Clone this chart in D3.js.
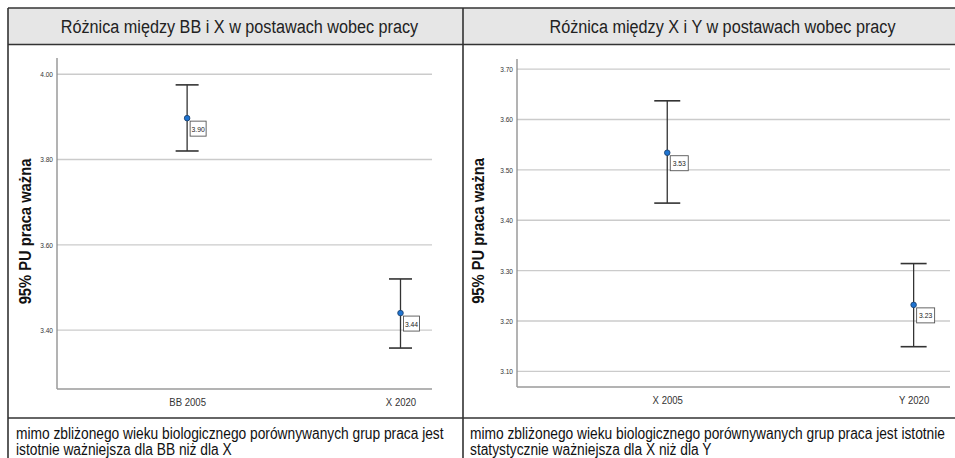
<!DOCTYPE html>
<html>
<head>
<meta charset="utf-8">
<script src="https://cdn.jsdelivr.net/npm/d3@7"></script>
<style>
  body { margin: 0; background: #fff; }
  svg { display: block; }
  text { font-family: "Liberation Sans", Arial, sans-serif; }
</style>
</head>
<body>
<svg id="chart" width="955" height="458"></svg>
<script>
// titles and notes
var panelTitles = ["Różnica między BB i X w postawach wobec pracy", "Różnica między X i Y w postawach wobec pracy"];
var notesA = ["mimo zbliżonego wieku biologicznego porównywanych grup praca jest", "istotnie ważniejsza dla BB niż dla X"];
var notesB = ["mimo zbliżonego wieku biologicznego porównywanych grup praca jest istotnie", "statystycznie ważniejsza dla X niż dla Y"];
var yTitle = "95% PU praca ważna";

// left panel data
var groupsA = ["BB 2005", "X 2020"];
var meanA = [3.897, 3.440];
var lowA = [3.820, 3.358];
var highA = [3.975, 3.520];
var ticksA = [3.40, 3.60, 3.80, 4.00];
var domainA = [3.262, 4.038];

// right panel data
var groupsB = ["X 2005", "Y 2020"];
var meanB = [3.534, 3.232];
var lowB = [3.434, 3.149];
var highB = [3.637, 3.314];
var ticksB = [3.10, 3.20, 3.30, 3.40, 3.50, 3.60, 3.70];
var domainB = [3.069, 3.720];

var svg = d3.select("#chart");
var fmt = d3.format(".2f");

// no narrow font installed, so squeeze the glyphs horizontally
function condense(sel, k) {
  sel.each(function() {
    var len = this.getComputedTextLength();
    d3.select(this).attr("textLength", len * k).attr("lengthAdjust", "spacingAndGlyphs");
  });
}

svg.append("rect").attr("width", 955).attr("height", 458).attr("fill", "#fff");

// table frame
var tLeft = 8, tTop = 8, tRight = 982, headBottom = 44.5, rowBottom = 418, divider = 463;
svg.append("rect")
  .attr("x", tLeft).attr("y", tTop)
  .attr("width", tRight - tLeft).attr("height", headBottom - tTop)
  .attr("fill", "#e6e6e6");

var frame = [
  [tLeft, tTop, tRight, tTop],
  [tLeft, headBottom, tRight, headBottom],
  [tLeft, rowBottom, tRight, rowBottom],
  [tLeft, tTop, tLeft, 470],
  [divider, tTop, divider, 470]
];
svg.selectAll("line.frame").data(frame).join("line")
  .attr("class", "frame")
  .attr("x1", function(d) { return d[0]; })
  .attr("y1", function(d) { return d[1]; })
  .attr("x2", function(d) { return d[2]; })
  .attr("y2", function(d) { return d[3]; })
  .attr("stroke", "#333")
  .attr("stroke-width", 1.6);

// header titles
var colCenters = [(tLeft + divider) / 2 + 4, (divider + tRight) / 2];
svg.selectAll("text.head").data(panelTitles).join("text")
  .attr("class", "head")
  .attr("x", function(d, i) { return colCenters[i]; })
  .attr("y", 33)
  .attr("text-anchor", "middle")
  .attr("font-size", 18)
  .attr("fill", "#222")
  .text(function(d) { return d; })
  .call(condense, 0.9);

// notes under charts
function drawNotes(lines, x) {
  svg.append("g").selectAll("text").data(lines).join("text")
    .attr("x", x)
    .attr("y", function(d, i) { return 439 + i * 15.5; })
    .attr("font-size", 16)
    .attr("fill", "#111")
    .text(function(d) { return d; })
    .call(condense, 0.86);
}
drawNotes(notesA, 16);
drawNotes(notesB, 470);

function drawPanel(p) {
  var w = p.right - p.left, h = p.bottom - p.top;
  var g = svg.append("g").attr("transform", "translate(" + p.left + "," + p.top + ")");

  var x = d3.scalePoint().domain(p.groups).range([w * 0.347, w * 0.916]);
  var y = d3.scaleLinear().domain(p.domain).range([h, 0]);

  // gridlines
  g.append("g").selectAll("line").data(p.ticks).join("line")
    .attr("x1", 0).attr("x2", w)
    .attr("y1", function(d) { return y(d); })
    .attr("y2", function(d) { return y(d); })
    .attr("stroke", "#cbcbcb")
    .attr("stroke-width", 1.4);

  // y axis
  var ya = g.append("g")
    .call(d3.axisLeft(y).tickValues(p.ticks).tickFormat(fmt).tickSize(0).tickPadding(4));
  ya.select(".domain").remove();
  ya.selectAll("text").attr("font-size", 7.5).attr("fill", "#333")
    .style("font-family", "\"Liberation Sans\", Arial, sans-serif")
    .call(condense, 0.87);

  // x axis
  var xa = g.append("g").attr("transform", "translate(0," + h + ")")
    .call(d3.axisBottom(x).tickSize(0).tickPadding(9));
  xa.select(".domain").remove();
  xa.selectAll("text").attr("font-size", 11).attr("fill", "#333")
    .style("font-family", "\"Liberation Sans\", Arial, sans-serif")
    .call(condense, 0.87);

  // axis lines
  g.append("line").attr("x1", 0).attr("x2", 0).attr("y1", 0).attr("y2", h)
    .attr("stroke", "#8a8a8a").attr("stroke-width", 1.3);
  g.append("line").attr("x1", 0).attr("x2", w).attr("y1", h).attr("y2", h)
    .attr("stroke", "#9a9a9a").attr("stroke-width", 1.3);

  // y axis title
  svg.append("text")
    .attr("transform", "translate(" + p.titleX + "," + (p.top + h / 2 + 8) + ") rotate(-90)")
    .attr("text-anchor", "middle")
    .attr("font-size", 16)
    .attr("font-weight", "bold")
    .attr("fill", "#111")
    .text(yTitle)
    .call(condense, 0.92);

  // error bars
  var data = p.groups.map(function(k, i) {
    return {key: k, mean: p.mean[i], low: p.low[i], high: p.high[i]};
  });
  var cap = p.cap;
  var bars = g.append("g").selectAll("g").data(data).join("g");
  bars.append("line")
    .attr("x1", function(d) { return x(d.key); })
    .attr("x2", function(d) { return x(d.key); })
    .attr("y1", function(d) { return y(d.high); })
    .attr("y2", function(d) { return y(d.low); })
    .attr("stroke", "#333").attr("stroke-width", 1.3);
  ["high", "low"].forEach(function(end) {
    bars.append("line")
      .attr("x1", function(d) { return x(d.key) - cap; })
      .attr("x2", function(d) { return x(d.key) + cap; })
      .attr("y1", function(d) { return y(d[end]); })
      .attr("y2", function(d) { return y(d[end]); })
      .attr("stroke", "#333").attr("stroke-width", 1.6);
  });
  bars.append("circle")
    .attr("cx", function(d) { return x(d.key); })
    .attr("cy", function(d) { return y(d.mean); })
    .attr("r", 2.8)
    .attr("fill", "#1f74d1")
    .attr("stroke", "#1b3c66")
    .attr("stroke-width", 0.8);

  // value labels
  var lab = bars.append("g")
    .attr("transform", function(d) { return "translate(" + (x(d.key) + 3) + "," + (y(d.mean) + 3) + ")"; });
  lab.append("rect")
    .attr("width", p.boxW).attr("height", 15)
    .attr("fill", "#fff").attr("stroke", "#555").attr("stroke-width", 0.9);
  lab.append("text")
    .attr("x", p.boxW / 2).attr("y", 10.5)
    .attr("text-anchor", "middle")
    .attr("font-size", 8)
    .attr("fill", "#222")
    .text(function(d) { return fmt(d.mean); })
    .call(condense, 0.85);
}

drawPanel({
  left: 57, right: 432, top: 58, bottom: 389, titleX: 31, cap: 11.5, boxW: 16,
  groups: groupsA, mean: meanA, low: lowA, high: highA, ticks: ticksA, domain: domainA
});
drawPanel({
  left: 517, right: 950, top: 59, bottom: 387, titleX: 484, cap: 13, boxW: 18,
  groups: groupsB, mean: meanB, low: lowB, high: highB, ticks: ticksB, domain: domainB
});
</script>
</body>
</html>
